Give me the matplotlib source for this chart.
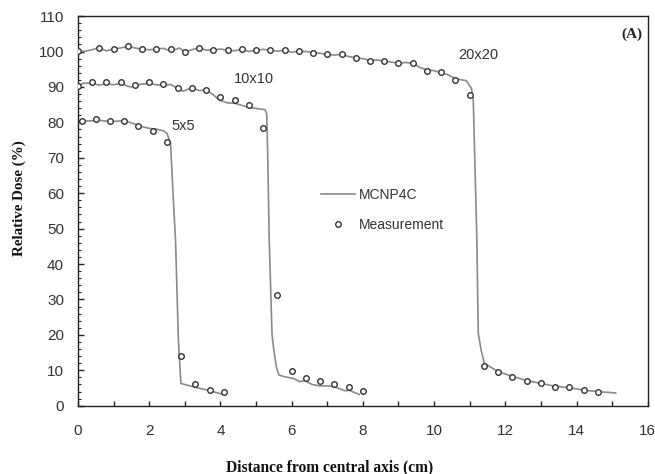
import numpy as np
import matplotlib
matplotlib.use("Agg")
import matplotlib.pyplot as plt
from matplotlib.ticker import MultipleLocator

meas_5_x = [0.1, 0.5, 0.9, 1.3, 1.7, 2.1, 2.5, 2.9, 3.3, 3.7, 4.1]
meas_5_y = [80.4, 80.9, 80.4, 80.4, 79.0, 77.6, 74.5, 14.1, 6.0, 4.4, 4.0]

meas_10_x = [0.0, 0.4, 0.8, 1.2, 1.6, 2.0, 2.4, 2.8, 3.2, 3.6, 4.0, 4.4, 4.8, 5.2,
             5.6, 6.0, 6.4, 6.8, 7.2, 7.6, 8.0]
meas_10_y = [90.2, 91.3, 91.3, 91.3, 90.5, 91.3, 90.7, 89.6, 89.8, 89.1, 87.2, 86.3, 84.9, 78.3,
             31.2, 9.9, 7.9, 7.0, 6.1, 5.2, 4.3]

meas_20_x = [0.0, 0.6, 1.0, 1.4, 1.8, 2.2, 2.6, 3.0, 3.4, 3.8, 4.2, 4.6, 5.0, 5.4, 5.8, 6.2,
             6.6, 7.0, 7.4, 7.8, 8.2, 8.6, 9.0, 9.4, 9.8, 10.2, 10.6, 11.0,
             11.4, 11.8, 12.2, 12.6, 13.0, 13.4, 13.8, 14.2, 14.6]
meas_20_y = [100.1, 101.1, 100.7, 101.5, 100.7, 100.7, 100.7, 99.9, 101.1, 100.4, 100.4, 100.7,
             100.4, 100.4, 100.4, 100.1, 99.7, 99.2, 99.2, 98.2, 97.3, 97.3, 96.7, 96.7, 94.5,
             94.1, 92.1, 87.7, 11.3, 9.4, 8.2, 7.0, 6.5, 5.4, 5.3, 4.4, 3.8]

# --- MCNP4C profiles ---
mc_5_x = [0.0, 0.3, 0.6, 0.9, 1.2, 1.4, 1.6, 1.8, 2.0, 2.2, 2.4, 2.5, 2.6, 2.68, 2.74,
          2.82, 2.89, 3.0, 3.3, 3.6, 4.0, 4.1]
mc_5_y = [80.4, 80.4, 80.6, 80.2, 80.4, 80.2, 79.5, 78.8, 78.3, 78.1, 77.6, 76.9, 74.0, 58.0,
          46.8, 18.5, 6.3, 6.0, 5.2, 4.5, 3.4, 3.3]

mc_10_x = [0.0, 0.15, 0.4, 0.6, 0.8, 1.0, 1.2, 1.4, 1.5, 1.6, 1.8, 2.0, 2.2, 2.4, 2.6, 2.8,
           2.95, 3.2, 3.4, 3.6, 3.8, 3.97, 4.2, 4.4, 4.8, 5.25, 5.3, 5.33, 5.37, 5.45, 5.5,
           5.57, 5.64, 5.8, 6.05, 6.23, 6.37, 6.57, 6.8, 7.08, 7.3, 7.5, 7.6, 7.8, 7.9]
mc_10_y = [90.2, 91.1, 91.0, 90.5, 91.0, 90.6, 91.1, 90.2, 90.0, 90.5, 90.8, 91.0, 90.6, 90.5,
           90.7, 89.6, 88.8, 89.8, 89.0, 89.1, 87.8, 86.3, 85.5, 85.4, 84.2, 83.6, 82.5, 70.0,
           46.8, 20.0, 15.7, 11.0, 8.7, 8.2, 7.7, 6.8, 7.1, 6.0, 5.6, 5.6, 5.0, 4.2, 4.4, 3.6, 3.2]

mc_20_x = [0.0, 0.2, 0.43, 0.58, 0.8, 1.0, 1.2, 1.4, 1.6, 1.8, 2.0, 2.2, 2.4, 2.56, 2.75,
           2.85, 3.0, 3.2, 3.4, 3.6, 3.8, 4.0, 4.2, 4.4, 4.6, 4.8, 5.0, 5.2, 5.4, 5.6, 5.8,
           6.0, 6.2, 6.4, 6.6, 6.8, 7.0, 7.2, 7.4, 7.6, 7.8, 8.0, 8.2, 8.4, 8.6, 8.8, 9.0,
           9.2, 9.4, 9.6, 9.8, 10.0, 10.2, 10.4, 10.6, 10.9, 11.05, 11.1, 11.2, 11.24, 11.32,
           11.41, 11.8, 12.2, 12.6, 13.0, 13.4, 13.8, 14.2, 14.6, 15.1]
mc_20_y = [100.0, 100.1, 100.6, 101.1, 100.2, 100.7, 101.0, 101.5, 101.0, 100.7, 100.5, 100.7,
           100.9, 100.3, 100.6, 101.0, 99.9, 100.5, 101.1, 100.4, 100.4, 100.7, 100.4, 100.2,
           100.7, 100.0, 100.4, 100.6, 100.4, 100.1, 100.4, 99.8, 100.1, 100.0, 99.7, 99.5,
           99.2, 99.0, 99.2, 98.6, 98.2, 98.0, 97.5, 97.6, 97.3, 97.0, 96.7, 96.9, 96.7, 95.5,
           94.8, 94.6, 94.0, 93.4, 92.3, 91.8, 89.6, 86.3, 47.0, 20.5, 15.7, 12.0, 9.6, 8.3,
           7.1, 6.3, 5.5, 5.1, 4.4, 4.0, 3.6]

field_labels = ["5x5", "10x10", "20x20"]
label_x = [2.95, 4.95, 11.25]
label_y = [79.0, 92.2, 99.0]

line_color = "#8a8a8a"
mark_color = "#333333"

fig = plt.figure(figsize=(6.55, 4.74), dpi=100)
ax = fig.add_axes([0.119, 0.144, 0.870, 0.822])

curves = [(mc_5_x, mc_5_y), (mc_10_x, mc_10_y), (mc_20_x, mc_20_y)]
points = [(meas_5_x, meas_5_y), (meas_10_x, meas_10_y), (meas_20_x, meas_20_y)]

for i, (cx, cy) in enumerate(curves):
    ax.plot(cx, cy, color=line_color, lw=1.2, label="MCNP4C" if i == 0 else None, zorder=2)
for i, (px, py) in enumerate(points):
    ax.plot(px, py, "o", ms=4, mfc="white", mec=mark_color, mew=1.0,
            label="Measurement" if i == 0 else None, zorder=3)

for lab, lx, ly in zip(field_labels, label_x, label_y):
    ax.text(lx, ly, lab, fontsize=10.5, color="#333333", ha="center", va="center",
            family="Liberation Sans")

ax.text(0.99, 0.97, "(A)", transform=ax.transAxes, ha="right", va="top",
        fontsize=11, fontweight="bold", family="Liberation Serif", color="#222222")

ax.set_xlim(0, 16)
ax.set_ylim(0, 110)
ax.xaxis.set_major_locator(MultipleLocator(2))
ax.xaxis.set_minor_locator(MultipleLocator(1))
ax.yaxis.set_major_locator(MultipleLocator(10))
ax.yaxis.set_minor_locator(MultipleLocator(2))

ax.tick_params(axis="x", which="both", direction="in", length=3.5, width=1, pad=13.5,
               labelsize=11, labelcolor="#333333", color="#222222")
ax.tick_params(axis="y", which="major", direction="in", length=4, width=1, pad=10,
               labelsize=11, labelcolor="#333333", color="#222222")
ax.tick_params(axis="y", which="minor", direction="in", length=2.5, width=0.8, color="#222222")
for lbl in ax.get_xticklabels() + ax.get_yticklabels():
    lbl.set_family("Liberation Sans")
for s in ax.spines.values():
    s.set_color("#222222")
    s.set_linewidth(1.0)

fig.text(330 / 655, 1 - 467 / 474, "Distance from central axis (cm)", ha="center", va="center",
         fontsize=11.2, fontweight="bold", family="Liberation Serif", color="#111111")
fig.text(19 / 655, 1 - 198 / 474, "Relative Dose (%)", ha="center", va="center", rotation=90,
         fontsize=10.8, fontweight="bold", family="Liberation Serif", color="#111111")

leg = ax.legend(loc="upper left", bbox_to_anchor=(0.405, 0.592), frameon=False,
                handlelength=2.4, handletextpad=0.3, labelspacing=1.2, numpoints=1,
                prop={"family": "Liberation Sans", "size": 10})
for t in leg.get_texts():
    t.set_color("#333333")

fig.savefig("out.png", dpi=100)
